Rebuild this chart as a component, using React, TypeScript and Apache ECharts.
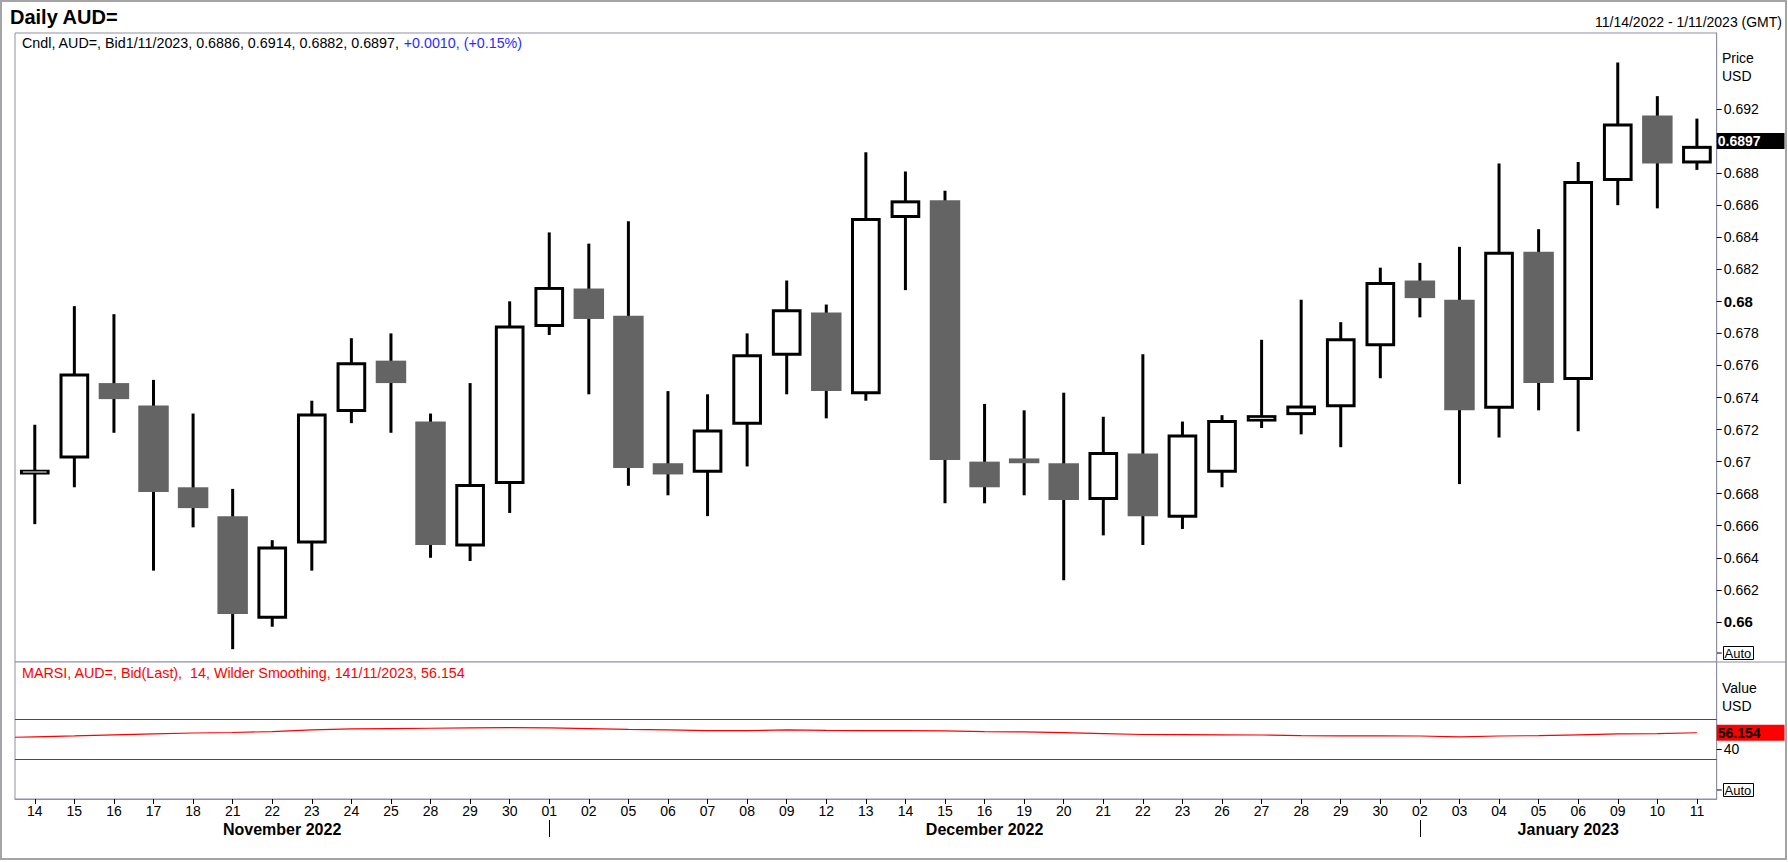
import React, { useEffect, useRef } from "react";
import * as echarts from "echarts";

// ---------- data ----------
const dates = [
  "14", "15", "16", "17", "18", "21", "22", "23", "24", "25", "28", "29", "30",
  "01", "02", "05", "06", "07", "08", "09", "12", "13", "14", "15", "16", "19", "20", "21", "22", "23", "26", "27", "28", "29", "30",
  "02", "03", "04", "05", "06", "09", "10", "11",
];
const opens = [
  0.6692, 0.6702, 0.6749, 0.6735, 0.6684, 0.6666, 0.6602, 0.6649, 0.6731, 0.6763, 0.6725, 0.6647, 0.6686,
  0.6784, 0.6808, 0.6791, 0.6699, 0.6693, 0.6723, 0.6766, 0.6793, 0.6742, 0.6852, 0.6863, 0.67, 0.6702, 0.6699, 0.6676, 0.6705, 0.6665, 0.6693, 0.6725, 0.6729, 0.6734, 0.6772,
  0.6813, 0.6801, 0.6733, 0.6831, 0.6751, 0.6875, 0.6916, 0.6886,
];
const highs = [
  0.6723, 0.6797, 0.6792, 0.6751, 0.673, 0.6683, 0.6651, 0.6738, 0.6777, 0.678, 0.673, 0.6749, 0.68,
  0.6843, 0.6836, 0.685, 0.6744, 0.6742, 0.678, 0.6813, 0.6798, 0.6893, 0.6881, 0.6869, 0.6736, 0.6732, 0.6743, 0.6728, 0.6767, 0.6725, 0.6729, 0.6776, 0.6801, 0.6787, 0.6821,
  0.6824, 0.6834, 0.6886, 0.6845, 0.6887, 0.6949, 0.6928, 0.6914,
];
const lows = [
  0.6661, 0.6684, 0.6718, 0.6632, 0.6659, 0.6583, 0.6597, 0.6632, 0.6724, 0.6718, 0.664, 0.6638, 0.6668,
  0.6779, 0.6742, 0.6685, 0.6679, 0.6666, 0.6697, 0.6742, 0.6727, 0.6738, 0.6807, 0.6674, 0.6674, 0.6679, 0.6626, 0.6654, 0.6648, 0.6658, 0.6684, 0.6721, 0.6717, 0.6709, 0.6752,
  0.679, 0.6686, 0.6715, 0.6732, 0.6719, 0.686, 0.6858, 0.6882,
];
const closes = [
  0.6695, 0.6755, 0.6739, 0.6681, 0.6671, 0.6605, 0.6647, 0.673, 0.6762, 0.6749, 0.6648, 0.6686, 0.6785,
  0.6809, 0.6789, 0.6696, 0.6692, 0.672, 0.6767, 0.6795, 0.6744, 0.6852, 0.6863, 0.6701, 0.6684, 0.6699, 0.6676, 0.6706, 0.6666, 0.6717, 0.6726, 0.6729, 0.6735, 0.6777, 0.6812,
  0.6802, 0.6732, 0.6831, 0.6749, 0.6875, 0.6911, 0.6886, 0.6897,
];
const rsiLeftEdge = 51.7;
const rsi = [
  52.1, 53.0, 54.0, 55.0, 55.9, 56.4, 57.3, 59.0, 60.0, 60.3, 60.6, 61.0, 61.2,
  61.0, 60.2, 59.4, 59.0, 58.3, 58.2, 59.0, 58.4, 58.3, 58.2, 58.0, 57.3, 57.0, 56.2, 55.2, 54.4, 54.2, 54.0, 53.9, 53.3, 53.1, 53.0,
  52.9, 52.1, 52.9, 53.3, 54.1, 55.0, 55.3, 56.154,
];
const priceTicks = [
  0.66, 0.662, 0.664, 0.666, 0.668, 0.67, 0.672, 0.674, 0.676, 0.678, 0.68, 0.682, 0.684, 0.686, 0.688, 0.69, 0.692,
];
// 0.69 is hidden behind the last-price box in the reference
const priceLabels = priceTicks.filter((v) => Math.abs(v - 0.69) > 1e-9);
const rsiTicks = [40];
const rsiBands = [70, 30];
const months = ["November 2022", "December 2022", "January 2023"];
const monthStartIdx = [0, 13, 35];
const lastClose = 0.6897;
const lastRsi = 56.154;

// ---------- layout ----------
const FONT = '"Liberation Sans", Arial, sans-serif';
const AXIS_GRAY = "#8f8fa3";
const L = 15;
const R = 1716.7;
const PRICE_TOP = 33;
const SPLIT = 662;
const RSI_BOTTOM = 799;

const monthBounds = [-0.5, ...monthStartIdx.slice(1), dates.length - 0.5];
const monthCenters = months.map((_, k) => (monthBounds[k] + monthBounds[k + 1]) / 2);

function buildOption(): any {
  const candleData = dates.map((_, i) => [i, opens[i], closes[i], lows[i], highs[i]]);
  const rsiData: number[][] = [[-0.5, rsiLeftEdge], ...rsi.map((v, i) => [i, v])];

  return {
    animation: false,
    backgroundColor: "#fff",
    textStyle: { fontFamily: FONT },
    grid: [
      {
        left: L, top: PRICE_TOP, width: R - L, height: SPLIT - PRICE_TOP,
        show: true, borderColor: AXIS_GRAY, borderWidth: 1, backgroundColor: "#fff",
      },
      {
        left: L, top: SPLIT, width: R - L, height: RSI_BOTTOM - SPLIT,
        show: true, borderColor: AXIS_GRAY, borderWidth: 1, backgroundColor: "#fff",
      },
    ],
    xAxis: [
      {
        type: "value", gridIndex: 0, min: -0.5, max: dates.length - 0.5,
        axisLine: { show: false, onZero: false }, axisTick: { show: false }, axisLabel: { show: false }, splitLine: { show: false },
      },
      {
        type: "value", gridIndex: 1, min: -0.5, max: dates.length - 0.5, position: "bottom",
        axisLine: { show: true, onZero: false, lineStyle: { color: AXIS_GRAY, width: 1 } },
        axisTick: { show: true, length: 5, customValues: dates.map((_, i) => i), lineStyle: { color: "#000", width: 1 } },
        axisLabel: {
          show: true, customValues: dates.map((_, i) => i), margin: 5,
          formatter: (v: number) => dates[Math.round(v)] ?? "",
          color: "#000", fontSize: 14, fontFamily: FONT,
        },
        splitLine: { show: false },
      },
      {
        type: "value", gridIndex: 1, min: -0.5, max: dates.length - 0.5, position: "bottom", offset: 21,
        axisLine: { show: false, onZero: false },
        axisTick: { show: true, length: 17, customValues: monthStartIdx.slice(1), lineStyle: { color: "#000", width: 1 } },
        axisLabel: {
          show: true, customValues: monthCenters, margin: 1,
          formatter: (v: number) => {
            const k = monthCenters.findIndex((c) => Math.abs(c - v) < 1e-6);
            return k >= 0 ? months[k] : "";
          },
          color: "#000", fontSize: 16, fontWeight: "bold", fontFamily: FONT,
        },
        splitLine: { show: false },
      },
    ],
    yAxis: [
      {
        type: "value", gridIndex: 0, position: "right", min: 0.6575, max: 0.69674, scale: true,
        axisLine: { show: true, onZero: false, lineStyle: { color: AXIS_GRAY, width: 1 } },
        axisTick: { show: true, length: 5, customValues: priceTicks, lineStyle: { color: "#000", width: 1 } },
        axisLabel: {
          show: true, customValues: priceLabels, margin: 7, color: "#000", fontSize: 14, fontFamily: FONT,
          formatter: (v: number) => {
            const s = String(parseFloat(v.toFixed(3)));
            return Math.round(v * 1000) % 20 === 0 ? `{b|${s}}` : s;
          },
          rich: { b: { fontWeight: "bold", fontSize: 15, color: "#000", fontFamily: FONT } },
        },
        splitLine: { show: false },
      },
      {
        type: "value", gridIndex: 1, position: "right", min: -9.6, max: 126.35,
        axisLine: { show: true, onZero: false, lineStyle: { color: AXIS_GRAY, width: 1 } },
        axisTick: { show: true, length: 5, customValues: rsiTicks, lineStyle: { color: "#000", width: 1 } },
        axisLabel: {
          show: true, customValues: rsiTicks, margin: 7, color: "#000", fontSize: 14, fontFamily: FONT,
        },
        splitLine: { show: false },
      },
    ],
    series: [
      {
        type: "custom",
        xAxisIndex: 0,
        yAxisIndex: 0,
        data: candleData,
        encode: { x: 0, y: [1, 2, 3, 4] },
        renderItem: (params: any, api: any) => {
          const i = api.value(0);
          const o = api.value(1);
          const c = api.value(2);
          const lo = api.value(3);
          const hi = api.value(4);
          const pH = api.coord([i, hi]);
          const pL = api.coord([i, lo]);
          const pO = api.coord([i, o]);
          const pC = api.coord([i, c]);
          const band = api.size([1, 0])[0];
          const x = pH[0];
          const top = Math.min(pO[1], pC[1]);
          const bottom = Math.max(pO[1], pC[1]);
          const children: any[] = [
            {
              type: "line",
              shape: { x1: x, y1: pH[1], x2: x, y2: pL[1] },
              style: { stroke: "#000", lineWidth: 3 },
            },
          ];
          if (c >= o) {
            const w = band * 0.75;
            const h = Math.max(bottom - top, 4);
            const y0 = (top + bottom) / 2 - h / 2;
            const insetX = 3;
            const insetY = Math.min(3, (h - 1) / 2);
            children.push({
              type: "rect",
              shape: { x: x - w / 2, y: y0, width: w, height: h },
              style: { fill: "#000" },
            });
            children.push({
              type: "rect",
              shape: { x: x - w / 2 + insetX, y: y0 + insetY, width: w - 2 * insetX, height: h - 2 * insetY },
              style: { fill: "#fff" },
            });
          } else {
            const w = band * 0.77;
            children.push({
              type: "rect",
              shape: { x: x - w / 2, y: top, width: w, height: Math.max(bottom - top, 2) },
              style: { fill: "#646464" },
            });
          }
          return { type: "group", children };
        },
        markLine: {
          silent: true,
          symbol: ["none", "none"],
          lineStyle: { width: 0, color: "rgba(0,0,0,0)" },
          data: [{ yAxis: lastClose }],
          label: {
            show: true,
            position: "end",
            distance: 0,
            formatter: lastClose.toFixed(4),
            color: "#fff",
            backgroundColor: "#000",
            fontWeight: "bold",
            fontSize: 14,
            fontFamily: FONT,
            lineHeight: 15,
            padding: [1, 24, 0, 1],
          },
        },
        z: 5,
      },
      {
        type: "line",
        xAxisIndex: 1,
        yAxisIndex: 1,
        data: rsiData,
        showSymbol: false,
        symbol: "none",
        lineStyle: { color: "#ff0000", width: 1.2 },
        markLine: {
          silent: true,
          symbol: ["none", "none"],
          data: [
            ...rsiBands.map((b) => ({
              yAxis: b,
              lineStyle: { color: "#ff0000", width: 1.2, type: "solid" },
              label: { show: false },
            })),
            {
              yAxis: lastRsi,
              lineStyle: { width: 0, color: "rgba(0,0,0,0)" },
              label: {
                show: true,
                position: "end",
                distance: 0,
                formatter: lastRsi.toFixed(3),
                color: "#000",
                backgroundColor: "#ff0000",
                fontWeight: "bold",
                fontSize: 14,
                fontFamily: FONT,
                lineHeight: 15,
                padding: [1, 24, 0, 1],
              },
            },
          ],
        },
      },
    ],
    graphic: [
      {
        type: "rect", silent: true, z: 0,
        shape: { x: 1, y: 1, width: 1785, height: 858 },
        style: { fill: "rgba(0,0,0,0)", stroke: "#a4a4a4", lineWidth: 2 },
      },
      {
        type: "line", silent: true,
        shape: { x1: R, y1: SPLIT, x2: 1786, y2: SPLIT },
        style: { stroke: AXIS_GRAY, lineWidth: 1 },
      },
      {
        type: "text", x: 10, y: 17,
        style: { text: "Daily AUD=", font: `bold 20px ${FONT}`, fill: "#000", verticalAlign: "middle" },
      },
      {
        type: "text", x: 1782, y: 22,
        style: { text: "11/14/2022 - 1/11/2023 (GMT)", font: `14px ${FONT}`, fill: "#000", align: "right", verticalAlign: "middle" },
      },
      {
        type: "text", x: 22, y: 43,
        style: {
          text: "{k|Cndl, AUD=, Bid1/11/2023, 0.6886, 0.6914, 0.6882, 0.6897, }{u|+0.0010, (+0.15%)}",
          font: `14.3px ${FONT}`, verticalAlign: "middle",
          rich: {
            k: { fill: "#000", fontSize: 14.3, fontFamily: FONT },
            u: { fill: "#2a2aff", fontSize: 14.3, fontFamily: FONT },
          },
        },
      },
      {
        type: "text", x: 22, y: 673,
        style: {
          text: "MARSI, AUD=, Bid(Last),  14, Wilder Smoothing, 141/11/2023, 56.154",
          font: `14.3px ${FONT}`, fill: "#ff0000", verticalAlign: "middle",
        },
      },
      { type: "text", x: 1722, y: 58, style: { text: "Price", font: `14px ${FONT}`, fill: "#000", verticalAlign: "middle" } },
      { type: "text", x: 1722, y: 76, style: { text: "USD", font: `14px ${FONT}`, fill: "#000", verticalAlign: "middle" } },
      { type: "text", x: 1722, y: 688, style: { text: "Value", font: `14px ${FONT}`, fill: "#000", verticalAlign: "middle" } },
      { type: "text", x: 1722, y: 706, style: { text: "USD", font: `14px ${FONT}`, fill: "#000", verticalAlign: "middle" } },
      { type: "line", shape: { x1: R, y1: 653, x2: R + 5, y2: 653 }, style: { stroke: "#000", lineWidth: 1 } },
      { type: "rect", shape: { x: 1723.5, y: 646.5, width: 30, height: 13 }, style: { fill: "#fff", stroke: "#000", lineWidth: 1 } },
      { type: "text", x: 1724.5, y: 653.5, style: { text: "Auto", font: `13px ${FONT}`, fill: "#000", verticalAlign: "middle" } },
      { type: "line", shape: { x1: R, y1: 790, x2: R + 5, y2: 790 }, style: { stroke: "#000", lineWidth: 1 } },
      { type: "rect", shape: { x: 1723.5, y: 783.5, width: 30, height: 13 }, style: { fill: "#fff", stroke: "#000", lineWidth: 1 } },
      { type: "text", x: 1724.5, y: 790.5, style: { text: "Auto", font: `13px ${FONT}`, fill: "#000", verticalAlign: "middle" } },
    ],
  };
}

export default function App() {
  const ref = useRef<HTMLDivElement>(null);
  useEffect(() => {
    if (!ref.current) return;
    const chart = echarts.init(ref.current, null, { renderer: "svg" });
    chart.setOption(buildOption());
    return () => chart.dispose();
  }, []);
  return (
    <div
      ref={ref}
      style={{ position: "fixed", left: 0, top: 0, width: 1788, height: 862, background: "#fff" }}
    />
  );
}
